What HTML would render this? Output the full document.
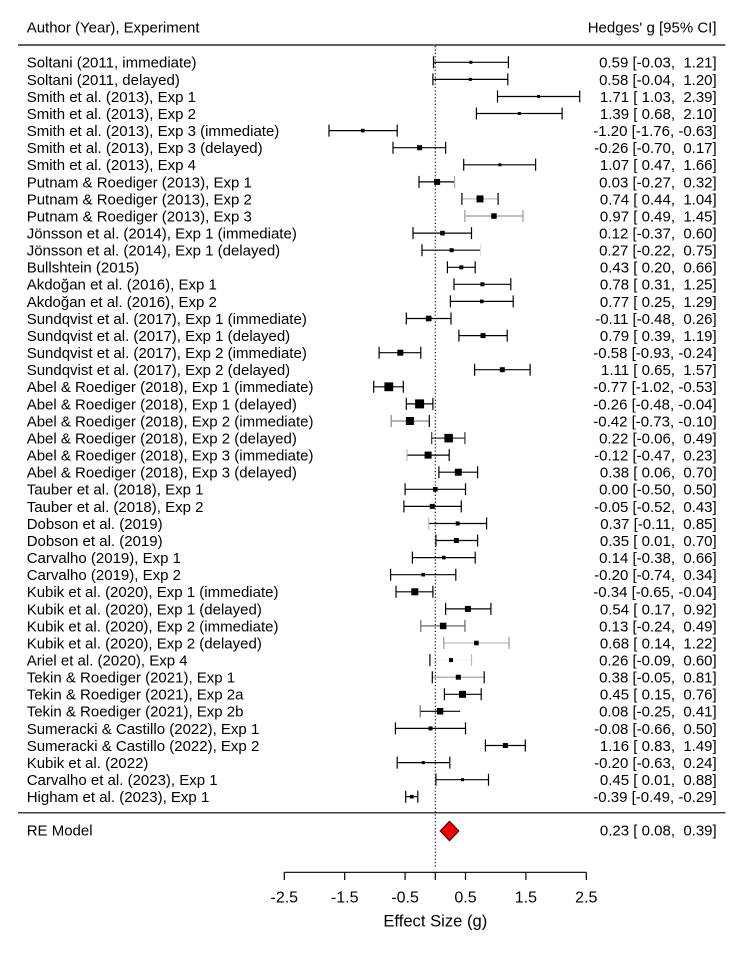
<!DOCTYPE html>
<html><head><meta charset="utf-8"><style>
html,body{margin:0;padding:0;background:#fff;}
svg{display:block;}
text{font-family:"Liberation Sans",Arial,sans-serif;font-size:15px;fill:#000;white-space:pre;}
.r{text-anchor:end;}
</style></head><body>
<svg width="744" height="957" viewBox="0 0 744 957" xmlns="http://www.w3.org/2000/svg">
<rect width="744" height="957" fill="#fff"/>
<!-- header -->
<text x="26.7" y="32.7">Author (Year), Experiment</text>
<text class="r" x="716.5" y="32.7">Hedges' g [95% CI]</text>
<line x1="18" y1="45" x2="725.5" y2="45" stroke="#000" stroke-width="1.2"/>
<line x1="18" y1="812.8" x2="725.5" y2="812.8" stroke="#000" stroke-width="1.2"/>
<!-- reference line -->
<line x1="435.3" y1="46" x2="435.3" y2="868" stroke="#000" stroke-width="1.1" stroke-dasharray="1.2,2.2"/>

<g stroke="#000" stroke-width="1.2" fill="none">
<path d="M433.5 62.3H508.4M433.5 56.3V68.3M508.4 56.3V68.3"/>
<path d="M432.9 79.4H507.8M432.9 73.4V85.4M507.8 73.4V85.4"/>
<path d="M497.5 96.5H579.7M497.5 90.5V102.5M579.7 90.5V102.5"/>
<path d="M476.4 113.5H562.1M476.4 107.5V119.5M562.1 107.5V119.5"/>
<path d="M329.0 130.6H397.2M329.0 124.6V136.6M397.2 124.6V136.6"/>
<path d="M393.0 147.7H445.6M393.0 141.7V153.7M445.6 141.7V153.7"/>
<path d="M463.7 164.8H535.6M463.7 158.8V170.8M535.6 158.8V170.8"/>
<path d="M419.0 181.9H454.6M419.0 175.9V187.9"/><path stroke="#aaa" d="M454.6 175.9V187.9"/>
<path stroke="#bbb" d="M461.9 198.9H498.1"/><path d="M461.9 192.9V204.9M498.1 192.9V204.9"/>
<path stroke="#999" d="M464.9 216.0H522.9M464.9 210.0V222.0M522.9 210.0V222.0"/>
<path d="M413.0 233.1H471.5M413.0 227.1V239.1M471.5 227.1V239.1"/>
<path d="M422.0 250.2H480.6M422.0 244.2V256.2"/><path stroke="#ddd" d="M480.6 244.2V256.2"/>
<path d="M447.4 267.3H475.2M447.4 261.3V273.3M475.2 261.3V273.3"/>
<path d="M454.0 284.3H510.8M454.0 278.3V290.3M510.8 278.3V290.3"/>
<path d="M450.4 301.4H513.2M450.4 295.4V307.4M513.2 295.4V307.4"/>
<path d="M406.3 318.5H451.0M406.3 312.5V324.5M451.0 312.5V324.5"/>
<path d="M458.9 335.6H507.2M458.9 329.6V341.6M507.2 329.6V341.6"/>
<path d="M379.1 352.7H420.8M379.1 346.7V358.7M420.8 346.7V358.7"/>
<path d="M474.6 369.7H530.1M474.6 363.7V375.7M530.1 363.7V375.7"/>
<path d="M373.7 386.8H403.3M373.7 380.8V392.8M403.3 380.8V392.8"/>
<path d="M406.3 403.9H432.9M406.3 397.9V409.9M432.9 397.9V409.9"/>
<path stroke="#888" d="M391.2 421.0H429.3M391.2 415.0V427.0"/><path d="M429.3 415.0V427.0"/>
<path stroke="#333" d="M431.7 438.1H464.9M431.7 432.1V444.1M464.9 432.1V444.1"/>
<path d="M406.9 455.1H449.2M449.2 449.1V461.1"/><path stroke="#bbb" d="M406.9 449.1V461.1"/>
<path d="M438.9 472.2H477.6M438.9 466.2V478.2M477.6 466.2V478.2"/>
<path d="M405.1 489.3H465.5M405.1 483.3V495.3M465.5 483.3V495.3"/>
<path d="M403.9 506.4H461.3M403.9 500.4V512.4M461.3 500.4V512.4"/>
<path d="M428.7 523.5H486.6M486.6 517.5V529.5"/><path stroke="#bbb" d="M428.7 517.5V529.5"/>
<path d="M435.9 540.5H477.6M435.9 534.5V546.5M477.6 534.5V546.5"/>
<path d="M412.4 557.6H475.2M412.4 551.6V563.6M475.2 551.6V563.6"/>
<path d="M390.6 574.7H455.8M390.6 568.7V580.7M455.8 568.7V580.7"/>
<path d="M396.0 591.8H432.9M396.0 585.8V597.8M432.9 585.8V597.8"/>
<path d="M445.6 608.9H490.9M445.6 602.9V614.9M490.9 602.9V614.9"/>
<path stroke="#666" d="M420.8 625.9H464.9M420.8 619.9V631.9M464.9 619.9V631.9"/>
<path stroke="#bbb" d="M443.8 643.0H509.0"/><path stroke="#999" d="M443.8 637.0V649.0M509.0 637.0V649.0"/>
<path stroke="#f2f2f2" d="M429.9 660.1H471.5"/><path d="M429.9 654.1V666.1"/><path stroke="#bbb" d="M471.5 654.1V666.1"/>
<path stroke="#999" d="M432.3 677.2H484.2"/><path d="M432.3 671.2V683.2M484.2 671.2V683.2"/>
<path d="M444.4 694.3H481.2M444.4 688.3V700.3M481.2 688.3V700.3"/>
<path d="M420.2 711.3H460.1"/><path stroke="#666" d="M420.2 705.3V717.3"/>
<path d="M395.4 728.4H465.5M395.4 722.4V734.4M465.5 722.4V734.4"/>
<path d="M485.4 745.5H525.3M485.4 739.5V751.5M525.3 739.5V751.5"/>
<path d="M397.2 762.6H449.8M397.2 756.6V768.6M449.8 756.6V768.6"/>
<path d="M435.9 779.7H488.5M435.9 773.7V785.7M488.5 773.7V785.7"/>
<path d="M405.7 796.7H417.8M405.7 790.7V802.7M417.8 790.7V802.7"/>
</g>

<!-- boxes -->
<g fill="#000">
<rect x="469.4" y="60.8" width="3" height="3"/>
<rect x="468.8" y="77.9" width="3" height="3"/>
<rect x="537.1" y="95.0" width="3" height="3"/>
<rect x="517.8" y="112.0" width="3" height="3"/>
<rect x="361.0" y="128.8" width="3.6" height="3.6"/>
<rect x="417.1" y="145.2" width="5" height="5"/>
<rect x="498.4" y="163.3" width="3" height="3"/>
<rect x="434.1" y="178.9" width="6" height="6"/>
<rect x="476.5" y="195.4" width="7" height="7"/>
<rect x="491.2" y="213.3" width="5.5" height="5.5"/>
<rect x="440.2" y="230.8" width="4.6" height="4.6"/>
<rect x="449.6" y="248.2" width="4" height="4"/>
<rect x="459.3" y="265.3" width="4" height="4"/>
<rect x="480.4" y="282.3" width="4" height="4"/>
<rect x="480.0" y="299.6" width="3.6" height="3.6"/>
<rect x="425.9" y="315.7" width="5.6" height="5.6"/>
<rect x="480.5" y="333.1" width="5" height="5"/>
<rect x="397.3" y="349.7" width="6" height="6"/>
<rect x="499.8" y="367.2" width="5" height="5"/>
<rect x="384.4" y="382.4" width="8.8" height="8.8"/>
<rect x="415.1" y="399.4" width="9" height="9"/>
<rect x="405.9" y="417.0" width="8" height="8"/>
<rect x="444.4" y="433.9" width="8.5" height="8.5"/>
<rect x="424.6" y="451.6" width="7" height="7"/>
<rect x="454.8" y="468.7" width="7" height="7"/>
<rect x="433.0" y="487.0" width="4.6" height="4.6"/>
<rect x="429.8" y="503.9" width="5" height="5"/>
<rect x="455.7" y="521.5" width="4" height="4"/>
<rect x="453.9" y="538.0" width="5" height="5"/>
<rect x="442.0" y="555.8" width="3.6" height="3.6"/>
<rect x="421.4" y="572.9" width="3.6" height="3.6"/>
<rect x="411.3" y="588.3" width="7" height="7"/>
<rect x="464.9" y="605.9" width="6" height="6"/>
<rect x="439.9" y="622.7" width="6.5" height="6.5"/>
<rect x="474.1" y="640.7" width="4.6" height="4.6"/>
<rect x="449.0" y="658.1" width="4" height="4"/>
<rect x="455.8" y="674.7" width="5" height="5"/>
<rect x="459.0" y="690.8" width="7" height="7"/>
<rect x="436.8" y="708.0" width="6.5" height="6.5"/>
<rect x="428.5" y="726.4" width="4" height="4"/>
<rect x="502.9" y="743.0" width="5" height="5"/>
<rect x="421.7" y="761.1" width="3" height="3"/>
<rect x="461.0" y="778.2" width="3" height="3"/>
<rect x="409.9" y="794.9" width="3.6" height="3.6"/>
</g>

<!-- RE diamond -->
<polygon points="440.1,831 449.5,821.2 458.9,831 449.5,840.8" fill="#ee0000" stroke="#300" stroke-width="1"/>

<!-- left labels -->
<g>
<text x="26.7" y="67.7">Soltani (2011, immediate)</text>
<text x="26.7" y="84.8">Soltani (2011, delayed)</text>
<text x="26.7" y="101.9">Smith et al. (2013), Exp 1</text>
<text x="26.7" y="118.9">Smith et al. (2013), Exp 2</text>
<text x="26.7" y="136.0">Smith et al. (2013), Exp 3 (immediate)</text>
<text x="26.7" y="153.1">Smith et al. (2013), Exp 3 (delayed)</text>
<text x="26.7" y="170.2">Smith et al. (2013), Exp 4</text>
<text x="26.7" y="187.3">Putnam &amp; Roediger (2013), Exp 1</text>
<text x="26.7" y="204.3">Putnam &amp; Roediger (2013), Exp 2</text>
<text x="26.7" y="221.4">Putnam &amp; Roediger (2013), Exp 3</text>
<text x="26.7" y="238.5">Jönsson et al. (2014), Exp 1 (immediate)</text>
<text x="26.7" y="255.6">Jönsson et al. (2014), Exp 1 (delayed)</text>
<text x="26.7" y="272.7">Bullshtein (2015)</text>
<text x="26.7" y="289.7">Akdoğan et al. (2016), Exp 1</text>
<text x="26.7" y="306.8">Akdoğan et al. (2016), Exp 2</text>
<text x="26.7" y="323.9">Sundqvist et al. (2017), Exp 1 (immediate)</text>
<text x="26.7" y="341.0">Sundqvist et al. (2017), Exp 1 (delayed)</text>
<text x="26.7" y="358.1">Sundqvist et al. (2017), Exp 2 (immediate)</text>
<text x="26.7" y="375.1">Sundqvist et al. (2017), Exp 2 (delayed)</text>
<text x="26.7" y="392.2">Abel &amp; Roediger (2018), Exp 1 (immediate)</text>
<text x="26.7" y="409.3">Abel &amp; Roediger (2018), Exp 1 (delayed)</text>
<text x="26.7" y="426.4">Abel &amp; Roediger (2018), Exp 2 (immediate)</text>
<text x="26.7" y="443.5">Abel &amp; Roediger (2018), Exp 2 (delayed)</text>
<text x="26.7" y="460.5">Abel &amp; Roediger (2018), Exp 3 (immediate)</text>
<text x="26.7" y="477.6">Abel &amp; Roediger (2018), Exp 3 (delayed)</text>
<text x="26.7" y="494.7">Tauber et al. (2018), Exp 1</text>
<text x="26.7" y="511.8">Tauber et al. (2018), Exp 2</text>
<text x="26.7" y="528.9">Dobson et al. (2019)</text>
<text x="26.7" y="545.9">Dobson et al. (2019)</text>
<text x="26.7" y="563.0">Carvalho (2019), Exp 1</text>
<text x="26.7" y="580.1">Carvalho (2019), Exp 2</text>
<text x="26.7" y="597.2">Kubik et al. (2020), Exp 1 (immediate)</text>
<text x="26.7" y="614.3">Kubik et al. (2020), Exp 1 (delayed)</text>
<text x="26.7" y="631.3">Kubik et al. (2020), Exp 2 (immediate)</text>
<text x="26.7" y="648.4">Kubik et al. (2020), Exp 2 (delayed)</text>
<text x="26.7" y="665.5">Ariel et al. (2020), Exp 4</text>
<text x="26.7" y="682.6">Tekin &amp; Roediger (2021), Exp 1</text>
<text x="26.7" y="699.7">Tekin &amp; Roediger (2021), Exp 2a</text>
<text x="26.7" y="716.7">Tekin &amp; Roediger (2021), Exp 2b</text>
<text x="26.7" y="733.8">Sumeracki &amp; Castillo (2022), Exp 1</text>
<text x="26.7" y="750.9">Sumeracki &amp; Castillo (2022), Exp 2</text>
<text x="26.7" y="768.0">Kubik et al. (2022)</text>
<text x="26.7" y="785.1">Carvalho et al. (2023), Exp 1</text>
<text x="26.7" y="802.1">Higham et al. (2023), Exp 1</text>
<text x="26.7" y="835.4">RE Model</text>
</g>

<!-- right labels -->
<g class="r">
<text class="r" x="716.7" y="67.7">0.59 [-0.03,  1.21]</text>
<text class="r" x="716.7" y="84.8">0.58 [-0.04,  1.20]</text>
<text class="r" x="716.7" y="101.9">1.71 [ 1.03,  2.39]</text>
<text class="r" x="716.7" y="118.9">1.39 [ 0.68,  2.10]</text>
<text class="r" x="716.7" y="136.0">-1.20 [-1.76, -0.63]</text>
<text class="r" x="716.7" y="153.1">-0.26 [-0.70,  0.17]</text>
<text class="r" x="716.7" y="170.2">1.07 [ 0.47,  1.66]</text>
<text class="r" x="716.7" y="187.3">0.03 [-0.27,  0.32]</text>
<text class="r" x="716.7" y="204.3">0.74 [ 0.44,  1.04]</text>
<text class="r" x="716.7" y="221.4">0.97 [ 0.49,  1.45]</text>
<text class="r" x="716.7" y="238.5">0.12 [-0.37,  0.60]</text>
<text class="r" x="716.7" y="255.6">0.27 [-0.22,  0.75]</text>
<text class="r" x="716.7" y="272.7">0.43 [ 0.20,  0.66]</text>
<text class="r" x="716.7" y="289.7">0.78 [ 0.31,  1.25]</text>
<text class="r" x="716.7" y="306.8">0.77 [ 0.25,  1.29]</text>
<text class="r" x="716.7" y="323.9">-0.11 [-0.48,  0.26]</text>
<text class="r" x="716.7" y="341.0">0.79 [ 0.39,  1.19]</text>
<text class="r" x="716.7" y="358.1">-0.58 [-0.93, -0.24]</text>
<text class="r" x="716.7" y="375.1">1.11 [ 0.65,  1.57]</text>
<text class="r" x="716.7" y="392.2">-0.77 [-1.02, -0.53]</text>
<text class="r" x="716.7" y="409.3">-0.26 [-0.48, -0.04]</text>
<text class="r" x="716.7" y="426.4">-0.42 [-0.73, -0.10]</text>
<text class="r" x="716.7" y="443.5">0.22 [-0.06,  0.49]</text>
<text class="r" x="716.7" y="460.5">-0.12 [-0.47,  0.23]</text>
<text class="r" x="716.7" y="477.6">0.38 [ 0.06,  0.70]</text>
<text class="r" x="716.7" y="494.7">0.00 [-0.50,  0.50]</text>
<text class="r" x="716.7" y="511.8">-0.05 [-0.52,  0.43]</text>
<text class="r" x="716.7" y="528.9">0.37 [-0.11,  0.85]</text>
<text class="r" x="716.7" y="545.9">0.35 [ 0.01,  0.70]</text>
<text class="r" x="716.7" y="563.0">0.14 [-0.38,  0.66]</text>
<text class="r" x="716.7" y="580.1">-0.20 [-0.74,  0.34]</text>
<text class="r" x="716.7" y="597.2">-0.34 [-0.65, -0.04]</text>
<text class="r" x="716.7" y="614.3">0.54 [ 0.17,  0.92]</text>
<text class="r" x="716.7" y="631.3">0.13 [-0.24,  0.49]</text>
<text class="r" x="716.7" y="648.4">0.68 [ 0.14,  1.22]</text>
<text class="r" x="716.7" y="665.5">0.26 [-0.09,  0.60]</text>
<text class="r" x="716.7" y="682.6">0.38 [-0.05,  0.81]</text>
<text class="r" x="716.7" y="699.7">0.45 [ 0.15,  0.76]</text>
<text class="r" x="716.7" y="716.7">0.08 [-0.25,  0.41]</text>
<text class="r" x="716.7" y="733.8">-0.08 [-0.66,  0.50]</text>
<text class="r" x="716.7" y="750.9">1.16 [ 0.83,  1.49]</text>
<text class="r" x="716.7" y="768.0">-0.20 [-0.63,  0.24]</text>
<text class="r" x="716.7" y="785.1">0.45 [ 0.01,  0.88]</text>
<text class="r" x="716.7" y="802.1">-0.39 [-0.49, -0.29]</text>
<text class="r" x="716.7" y="835.4">0.23 [ 0.08,  0.39]</text>
</g>

<!-- x axis -->
<g stroke="#000" stroke-width="1.2" fill="none">
<path d="M284.3 872.3H586.3M284.3 872.3V880M344.7 872.3V880M405.1 872.3V880M435.3 872.3V880M465.5 872.3V880M525.9 872.3V880M586.3 872.3V880"/>
</g>
<g style="font-size:16px">
<text x="284.3" y="902.5" text-anchor="middle" style="font-size:16px">-2.5</text>
<text x="344.7" y="902.5" text-anchor="middle" style="font-size:16px">-1.5</text>
<text x="405.1" y="902.5" text-anchor="middle" style="font-size:16px">-0.5</text>
<text x="465.5" y="902.5" text-anchor="middle" style="font-size:16px">0.5</text>
<text x="525.9" y="902.5" text-anchor="middle" style="font-size:16px">1.5</text>
<text x="586.3" y="902.5" text-anchor="middle" style="font-size:16px">2.5</text>
</g>
<text x="435.3" y="926.7" text-anchor="middle" style="font-size:16.6px">Effect Size (g)</text>
</svg>
</body></html>
